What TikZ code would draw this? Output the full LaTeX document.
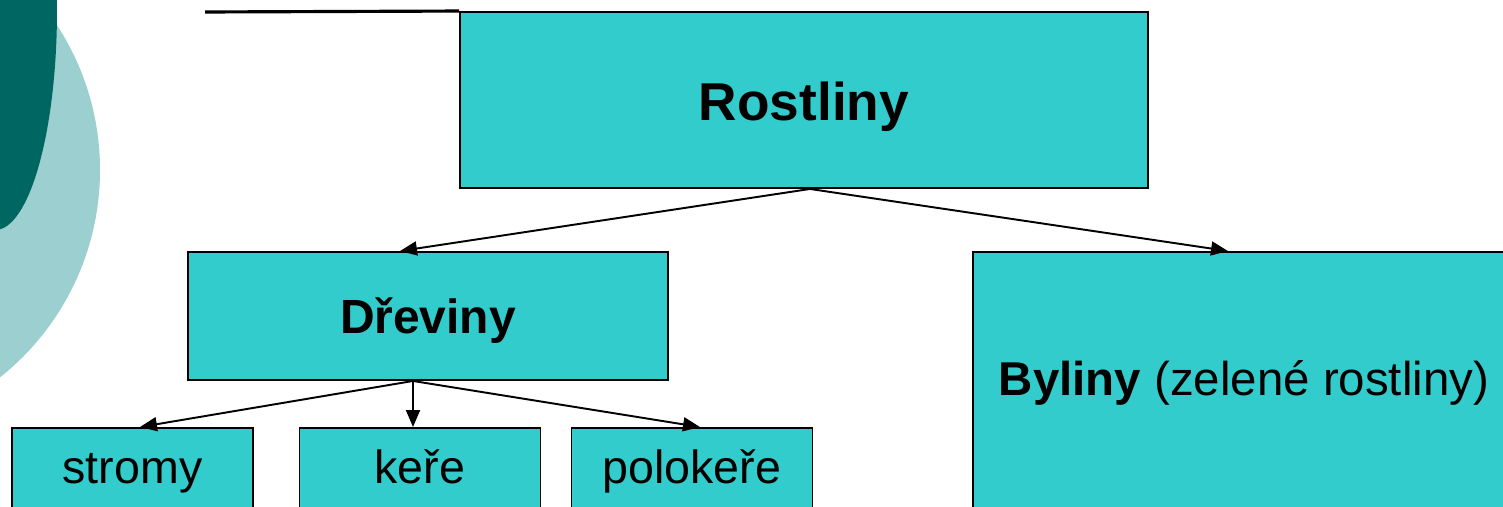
\documentclass[tikz,border=0pt]{standalone}
\usepackage{fontspec}
\setmainfont{Liberation Sans}
\usepackage{xcolor}
\usepackage{tikz}
\usetikzlibrary{arrows.meta}
\definecolor{boxfill}{RGB}{51,204,204}
\definecolor{darkteal}{RGB}{0,102,97}
\definecolor{lightteal}{RGB}{156,207,207}

\begin{document}
\begin{tikzpicture}[
    box/.style={draw=black, line width=1.1pt, fill=boxfill, inner sep=0pt},
    link/.style={line width=1.1pt, -{Triangle[length=0.34cm, width=0.28cm]}},
    bigfont/.style={font=\fontsize{30.3}{36}\selectfont\bfseries, text height=0.84cm, text depth=0pt},
    midfont/.style={font=\fontsize{27.3}{32}\selectfont\bfseries, text height=0.68cm, text depth=0pt},
    smallfont/.style={font=\fontsize{26.5}{32}\selectfont, text height=0.7cm, text depth=0.18cm}
]
                % Page
                \useasboundingbox (0,0) rectangle (30.06,-10.14);
                \clip (0,0) rectangle (30.06,-10.14);
                \fill[lightteal] (-3.3,-3.4) circle(5.3);
                \fill[darkteal] (-0.1,-0.2) ellipse(1.24 and 4.4);
                % Top level
                \node[box, bigfont, minimum width=13.76cm, minimum height=3.52cm] (rostliny) at (16.08,-2.0) {Rostliny};
                \draw[line width=1.8pt] (4.1,-0.24) -- (rostliny.north west);
                \node[box, midfont, minimum width=9.6cm, minimum height=2.56cm] (dreviny) at (8.56,-6.32) {Dřeviny};
                \node[box, smallfont, font=\fontsize{27}{32}\selectfont, text depth=0.3cm, minimum width=10.84cm, minimum height=5.32cm] (byliny) at (24.88,-7.7) {\textbf{Byliny} (zelené rostliny)};
                % Woody plants
                \foreach \name/\x/\txt in {stromy/2.65/stromy, kere/8.4/keře, polokere/13.84/polokeře} {
                    \node[box, smallfont, minimum width=4.82cm, minimum height=1.68cm] (\name) at (\x,-9.4) {\txt};
                }
                \draw[link] ([xshift=0.12cm]rostliny.south) -- ([xshift=-0.56cm]dreviny.north);
                \draw[link] ([xshift=0.12cm]rostliny.south) -- ([xshift=-0.32cm]byliny.north);
                \draw[link] ([xshift=-0.3cm]dreviny.south) -- ([xshift=0.15cm]stromy.north);
                \draw[link] ([xshift=-0.3cm]dreviny.south) -- ([xshift=-0.14cm]kere.north);
                \draw[link] ([xshift=-0.3cm]dreviny.south) -- ([xshift=0.16cm]polokere.north);
            \end{tikzpicture}
\end{document}
